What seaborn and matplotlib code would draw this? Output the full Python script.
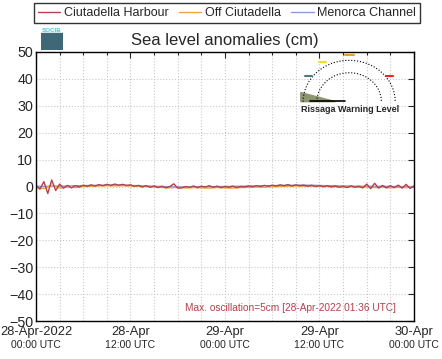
import numpy as np
import pandas as pd
import seaborn as sns
import matplotlib.pyplot as plt
import matplotlib.dates as mdates
from matplotlib.patches import Polygon, Rectangle

# sea level anomalies (cm)
harbour_cm = [0.3, -1.0, 1.8, -2.6, 2.4, -1.5, 0.9, -0.6, 0.4, -0.5, 0.3, -0.2,
              0.5, 0.1, 0.6, 0.2, 0.7, 0.3, 0.8, 0.4, 0.9, 0.5, 0.8, 0.4,
              0.6, 0.1, 0.4, -0.2, 0.3, -0.3, 0.2, -0.4, 0.1, -0.5, 0.0, 1.0,
              -0.6, -0.5, 0.0, -0.3, 0.2, -0.4, 0.1, -0.2, 0.3, -0.3, 0.1, -0.4,
              0.0, -0.3, 0.1, -0.4, 0.0, -0.2, 0.2, -0.1, 0.3, 0.0, 0.4, 0.1,
              0.5, 0.2, 0.6, 0.3, 0.7, 0.2, 0.6, 0.3, 0.5, 0.1, 0.4, 0.0,
              0.3, -0.1, 0.3, -0.2, 0.2, -0.3, 0.1, -0.4, 0.2, -0.3, 0.1, -0.5,
              0.9, -0.8, 1.2, -0.6, 0.4, -0.5, 0.3, -0.4, 0.5, -0.6, 0.8, -0.7,
              0.2]
off_cm = [-0.3, -0.8, 0.5, -0.6, -0.2, -0.4, 0.0, 0.1, 0.2, 0.3, 0.2, 0.3,
          0.2, 0.1, 0.0, -0.2, -0.4, -0.5, -0.3, -0.6, -0.4, -0.5, -0.6, -0.4,
          -0.5, -0.6, -0.4, -0.3, -0.2, -0.3, -0.1, 0.0, 0.1, 0.2, 0.1, 0.2,
          0.1, 0.0, -0.1, -0.2, -0.1, -0.3, -0.2, -0.4, -0.3, -0.5, -0.3, -0.4,
          -0.2]
channel_cm = [0.1, 0.0, 0.2, 0.1, 0.2, 0.3, 0.3, 0.4, 0.4, 0.5, 0.5, 0.4,
              0.4, 0.3, 0.2, 0.1, 0.0, -0.1, -0.1, -0.2, -0.2, -0.1, -0.1, 0.0,
              0.0, 0.1, 0.1, 0.2, 0.2, 0.3, 0.3, 0.4, 0.4, 0.5, 0.5, 0.5,
              0.4, 0.3, 0.3, 0.2, 0.2, 0.1, 0.1, 0.0, 0.1, 0.0, 0.0, -0.1,
              0.0]
series_names = ['Ciutadella Harbour', 'Off Ciutadella', 'Menorca Channel']
series_colors = ['#b4404c', '#f0a43c', '#8c9cd4']
tick_top = ['28-Apr-2022', '28-Apr', '29-Apr', '29-Apr', '30-Apr']
tick_bottom = ['00:00 UTC', '12:00 UTC', '00:00 UTC', '12:00 UTC', '00:00 UTC']
note = 'Max. oscillation=5cm [28-Apr-2022 01:36 UTC]'

start = pd.Timestamp('2022-04-28 00:00')
end = pd.Timestamp('2022-04-30 00:00')
df_h = pd.DataFrame({'time': pd.date_range(start, end, periods=len(harbour_cm)), 'cm': harbour_cm})
df_o = pd.DataFrame({'time': pd.date_range(start, end, periods=len(off_cm)), 'cm': off_cm})
df_c = pd.DataFrame({'time': pd.date_range(start, end, periods=len(channel_cm)), 'cm': channel_cm})

sns.set_style('white')
plt.rcParams['font.family'] = ['Liberation Sans', 'DejaVu Sans']

fig = plt.figure(figsize=(4.42, 3.59), dpi=100)
ax = fig.add_axes([0.0814, 0.1058, 0.8552, 0.7494])

# draw channel first so the harbour line sits on top
sns.lineplot(data=df_c, x='time', y='cm', color=series_colors[2], lw=1.0, ax=ax, label=series_names[2])
sns.lineplot(data=df_o, x='time', y='cm', color=series_colors[1], lw=1.0, ax=ax, label=series_names[1])
sns.lineplot(data=df_h, x='time', y='cm', color=series_colors[0], lw=1.0, ax=ax, label=series_names[0])

ax.set_xlim(start, end)
ax.set_ylim(-50, 50)
ax.set_yticks(range(-50, 51, 10))
ax.set_xlabel('')
ax.set_ylabel('')
ax.xaxis.set_major_locator(mdates.HourLocator(byhour=[0, 12]))
ax.xaxis.set_minor_locator(mdates.HourLocator(byhour=[3, 6, 9, 15, 18, 21]))
ax.set_xticklabels(tick_top, fontsize=9.3)
ax.tick_params(axis='y', labelsize=10.3, pad=2)
ax.tick_params(axis='x', pad=3.5)
ax.tick_params(which='both', direction='in', top=True, right=True, length=4, width=0.8)
ax.tick_params(which='minor', length=2.5)
ax.grid(True, which='both', color='#c8c8c8', linestyle=':', linewidth=0.8)
for s in ax.spines.values():
    s.set_color('black')
    s.set_linewidth(1.0)
for t, lab in zip(ax.get_xticks(), tick_bottom):
    ax.text(t, -0.09, lab, transform=ax.get_xaxis_transform(), ha='center', va='center', fontsize=7.5)

ax.text(0.952, 0.048, note, transform=ax.transAxes, ha='right', va='center', fontsize=7.3, color='#b4404c')
ax.set_title('Sea level anomalies (cm)', fontsize=12, pad=5)

handles, labels = ax.get_legend_handles_labels()
order = [labels.index(n) for n in series_names]
ax.legend_.remove()
leg = fig.legend([handles[i] for i in order], series_names, loc='center', ncol=3,
                 bbox_to_anchor=(0.5135, 0.964), fontsize=9, frameon=True, fancybox=False,
                 edgecolor='black', handlelength=1.8, columnspacing=0.8, borderpad=0.3,
                 handletextpad=0.3, borderaxespad=0)
leg.get_frame().set_linewidth(1.0)

# logo
lax = fig.add_axes([0.093, 0.86, 0.05, 0.065])
lax.axis('off')
lax.set_xlim(0, 1)
lax.set_ylim(0, 1)
lax.add_patch(Rectangle((0, 0), 1, 0.72, color='#3e6878'))
lax.text(0.5, 0.86, 'SOCIB', ha='center', va='center', fontsize=4.5, color='#4cc0d4', weight='bold')

# rissaga warning gauge
gax = fig.add_axes([0.665, 0.665, 0.25, 0.19])
gax.axis('off')
gax.set_xlim(-1.2, 1.2)
gax.set_ylim(-0.45, 1.2)
th = np.linspace(np.pi, 0, 30)
gax.plot(np.cos(th), np.sin(th), ls=':', color='black', lw=0.8)
gax.plot(0.7 * np.cos(th), 0.7 * np.sin(th), ls=':', color='black', lw=0.8)
gax.add_patch(Polygon([[-1.05, 0.0], [-1.05, 0.22], [-0.3, 0.0]], color='#8c9470'))
gax.plot([-0.85, -0.1], [0.02, 0.02], color='black', lw=1.2)
gax.plot([-0.95, -0.8], [0.62, 0.62], color='#507880', lw=1.5)
gax.plot([-0.65, -0.5], [0.95, 0.95], color='#f0e020', lw=1.5)
gax.plot([-0.1, 0.1], [1.12, 1.12], color='#f0a020', lw=1.5)
gax.plot([0.8, 0.95], [0.62, 0.62], color='#f02020', lw=1.5)
gax.text(0.02, -0.2, 'Rissaga Warning Level', ha='center', va='center', fontsize=6.5, weight='bold')

fig.savefig('out.png', dpi=100)
